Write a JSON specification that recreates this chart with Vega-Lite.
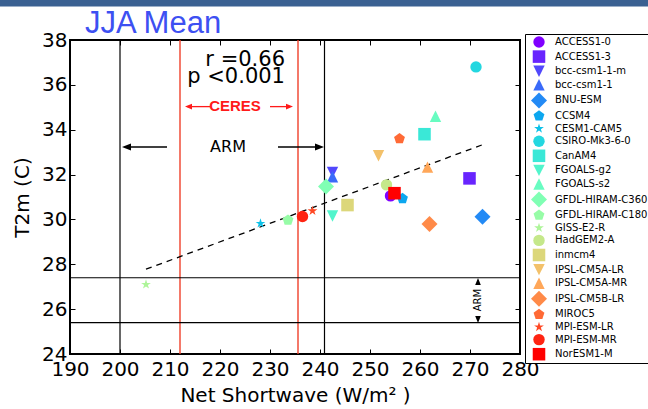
{
  "$schema": "https://vega.github.io/schema/vega-lite/v6.json",
  "width": 450,
  "height": 314,
  "autosize": {"type": "none"},
  "padding": {"left": 70, "top": 40, "right": 128, "bottom": 55},
  "background": "white",
  "title": {"text": "JJA Mean", "anchor": "start", "dx": 15, "offset": -64, "baseline": "alphabetic", "font": "Liberation Sans", "fontSize": 31, "fontWeight": "normal", "color": "#3d50f2", "frame": "group"},
  "config": {
    "view": {"stroke": "black", "strokeWidth": 2},
    "axis": {"grid": false, "domain": false, "tickColor": "black", "tickSize": -5, "tickWidth": 1, "labelColor": "black", "labelFont": "DejaVu Sans", "labelFontSize": 20, "labelOverlap": false, "labelFlush": false, "titleFont": "DejaVu Sans", "titleFontSize": 20, "titleFontWeight": "normal", "titleColor": "black"}
  },
  "resolve": {"axis": {"x": "independent", "y": "independent"}},
  "layer": [
    {
      "data": {"values": [{"band": "top"}]},
      "mark": {"type": "rect", "color": "#3b6192", "clip": false},
      "encoding": {
        "x": {"datum": 176, "type": "quantitative", "axis": null},
        "x2": {"datum": 306},
        "y": {"datum": 39.49, "type": "quantitative", "axis": null},
        "y2": {"datum": 39.8}
      }
    },
    {
      "data": {"values": [{"sw": 200}, {"sw": 240.9}]},
      "mark": {"type": "rule", "color": "black", "strokeWidth": 1.2},
      "encoding": {
        "x": {"field": "sw", "type": "quantitative", "axis": {"orient": "top", "labels": false, "title": null, "values": [190, 200, 210, 220, 230, 240, 250, 260, 270, 280]}}
      }
    },
    {
      "data": {"values": [{"sw": 212}, {"sw": 235.6}]},
      "mark": {"type": "rule", "color": "#f0402a", "strokeWidth": 1.4},
      "encoding": {
        "x": {"field": "sw", "type": "quantitative", "axis": null}
      }
    },
    {
      "data": {"values": [{"t2m": 25.4}, {"t2m": 27.4}]},
      "mark": {"type": "rule", "color": "black", "strokeWidth": 1.2},
      "encoding": {
        "y": {"field": "t2m", "type": "quantitative", "axis": {"orient": "right", "labels": false, "title": null, "values": [24, 26, 28, 30, 32, 34, 36, 38]}}
      }
    },
    {
      "data": {"values": [{"sw": 205.2, "t2m": 27.78}, {"sw": 272.5, "t2m": 33.33}]},
      "mark": {"type": "line", "color": "black", "strokeWidth": 1.3, "strokeDash": [6, 5]},
      "encoding": {
        "x": {"field": "sw", "type": "quantitative", "axis": null},
        "y": {"field": "t2m", "type": "quantitative", "axis": null}
      }
    },
    {
      "data": {"values": [
        {"model": "ACCESS1-0", "sw": 254.1, "t2m": 31.05},
        {"model": "ACCESS1-3", "sw": 269.9, "t2m": 31.83},
        {"model": "bcc-csm1-1-m", "sw": 242.5, "t2m": 32.1},
        {"model": "bcc-csm1-1", "sw": 242.5, "t2m": 31.9},
        {"model": "BNU-ESM", "sw": 272.5, "t2m": 30.12},
        {"model": "CCSM4", "sw": 256.5, "t2m": 30.93},
        {"model": "CESM1-CAM5", "sw": 228.1, "t2m": 29.82},
        {"model": "CSIRO-Mk3-6-0", "sw": 271.2, "t2m": 36.8},
        {"model": "CanAM4", "sw": 260.9, "t2m": 33.8},
        {"model": "FGOALS-g2", "sw": 242.5, "t2m": 30.15},
        {"model": "FGOALS-s2", "sw": 263.1, "t2m": 34.6},
        {"model": "GFDL-HIRAM-C360", "sw": 241.2, "t2m": 31.47},
        {"model": "GFDL-HIRAM-C180", "sw": 233.6, "t2m": 29.97},
        {"model": "GISS-E2-R", "sw": 205.2, "t2m": 27.1},
        {"model": "HadGEM2-A", "sw": 253.3, "t2m": 31.54},
        {"model": "inmcm4", "sw": 245.5, "t2m": 30.64},
        {"model": "IPSL-CM5A-LR", "sw": 251.7, "t2m": 32.84},
        {"model": "IPSL-CM5A-MR", "sw": 261.5, "t2m": 32.33},
        {"model": "IPSL-CM5B-LR", "sw": 261.9, "t2m": 29.8},
        {"model": "MIROC5", "sw": 255.9, "t2m": 33.6},
        {"model": "MPI-ESM-LR", "sw": 238.5, "t2m": 30.38},
        {"model": "MPI-ESM-MR", "sw": 236.5, "t2m": 30.13},
        {"model": "NorESM1-M", "sw": 254.9, "t2m": 31.17}
      ]},
      "mark": {"type": "point", "filled": true, "opacity": 1, "size": 130},
      "encoding": {
        "x": {"field": "sw", "type": "quantitative", "scale": {"domain": [190, 280], "nice": false, "zero": false},
              "axis": {"orient": "bottom", "values": [190, 200, 210, 220, 230, 240, 250, 260, 270, 280], "labelPadding": 10, "titlePadding": 6, "title": "Net Shortwave (W/m\u00b2 )"}},
        "y": {"field": "t2m", "type": "quantitative", "scale": {"domain": [24, 38], "nice": false, "zero": false},
              "axis": {"orient": "left", "values": [24, 26, 28, 30, 32, 34, 36, 38], "labelPadding": 8, "titlePadding": 9, "title": "T2m (C)"}},
        "color": {"field": "model", "type": "nominal",
          "scale": {
            "domain": ["ACCESS1-0", "ACCESS1-3", "bcc-csm1-1-m", "bcc-csm1-1", "BNU-ESM", "CCSM4", "CESM1-CAM5", "CSIRO-Mk3-6-0", "CanAM4", "FGOALS-g2", "FGOALS-s2", "GFDL-HIRAM-C360", "GFDL-HIRAM-C180", "GISS-E2-R", "HadGEM2-A", "inmcm4", "IPSL-CM5A-LR", "IPSL-CM5A-MR", "IPSL-CM5B-LR", "MIROC5", "MPI-ESM-LR", "MPI-ESM-MR", "NorESM1-M"],
            "range": ["#8000ff", "#6824fe", "#5148fc", "#3a6af9", "#238af5", "#0ca7ef", "#0cc1e8", "#23d7e0", "#3ae8d7", "#51f5cc", "#68fcc1", "#80ffb4", "#97fca7", "#aef599", "#c5e88a", "#dcd77a", "#f3c16a", "#ffa759", "#ff8a48", "#ff6a36", "#ff4824", "#ff2412", "#ff0000"]
          },
          "legend": {"orient": "none", "legendX": 455, "legendY": -6, "title": null, "strokeColor": "black", "fillColor": "white", "padding": 2, "symbolOffset": 6, "labelOffset": 10, "labelFontSize": 10, "labelFont": "DejaVu Sans", "labelColor": "black", "rowPadding": 1.6, "symbolSize": 130, "symbolStrokeWidth": 0}
        },
        "shape": {"field": "model", "type": "nominal",
          "scale": {
            "domain": ["ACCESS1-0", "ACCESS1-3", "bcc-csm1-1-m", "bcc-csm1-1", "BNU-ESM", "CCSM4", "CESM1-CAM5", "CSIRO-Mk3-6-0", "CanAM4", "FGOALS-g2", "FGOALS-s2", "GFDL-HIRAM-C360", "GFDL-HIRAM-C180", "GISS-E2-R", "HadGEM2-A", "inmcm4", "IPSL-CM5A-LR", "IPSL-CM5A-MR", "IPSL-CM5B-LR", "MIROC5", "MPI-ESM-LR", "MPI-ESM-MR", "NorESM1-M"],
            "range": [
              "circle", "M-1.1,-1.1L1.1,-1.1L1.1,1.1L-1.1,1.1Z", "M-1,-1L1,-1L0,1Z", "M0,-1L1,1L-1,1Z", "M0,-1.4L1.4,0L0,1.4L-1.4,0Z", "M0,-1L0.951,-0.309L0.588,0.809L-0.588,0.809L-0.951,-0.309Z", "M0,-0.9L0.202,-0.278L0.856,-0.278L0.327,0.106L0.529,0.728L0,0.344L-0.529,0.728L-0.327,0.106L-0.856,-0.278L-0.202,-0.278Z",
              "circle", "M-1.1,-1.1L1.1,-1.1L1.1,1.1L-1.1,1.1Z", "M-1,-1L1,-1L0,1Z", "M0,-1L1,1L-1,1Z", "M0,-1.4L1.4,0L0,1.4L-1.4,0Z", "M0,-1L0.951,-0.309L0.588,0.809L-0.588,0.809L-0.951,-0.309Z", "M0,-0.9L0.202,-0.278L0.856,-0.278L0.327,0.106L0.529,0.728L0,0.344L-0.529,0.728L-0.327,0.106L-0.856,-0.278L-0.202,-0.278Z",
              "circle", "M-1.1,-1.1L1.1,-1.1L1.1,1.1L-1.1,1.1Z", "M-1,-1L1,-1L0,1Z", "M0,-1L1,1L-1,1Z", "M0,-1.4L1.4,0L0,1.4L-1.4,0Z", "M0,-1L0.951,-0.309L0.588,0.809L-0.588,0.809L-0.951,-0.309Z", "M0,-0.9L0.202,-0.278L0.856,-0.278L0.327,0.106L0.529,0.728L0,0.344L-0.529,0.728L-0.327,0.106L-0.856,-0.278L-0.202,-0.278Z",
              "circle", "M-1.1,-1.1L1.1,-1.1L1.1,1.1L-1.1,1.1Z"
            ]
          },
          "legend": {"orient": "none", "legendX": 455, "legendY": -6, "title": null, "strokeColor": "black", "fillColor": "white", "padding": 2, "symbolOffset": 6, "labelOffset": 10, "labelFontSize": 10, "labelFont": "DejaVu Sans", "labelColor": "black", "rowPadding": 1.6, "symbolSize": 130, "symbolStrokeWidth": 0}
        }
      }
    },
    {
      "data": {"values": [{"sw": 233, "t2m": 36.83, "label": "r =0.66"}, {"sw": 233, "t2m": 36.08, "label": "p <0.001"}]},
      "mark": {"type": "text", "align": "right", "baseline": "alphabetic", "font": "DejaVu Sans", "fontSize": 21, "color": "black"},
      "encoding": {
        "x": {"field": "sw", "type": "quantitative", "axis": null},
        "y": {"field": "t2m", "type": "quantitative", "axis": null},
        "text": {"field": "label"}
      }
    },
    {
      "data": {"values": [{"sw": 223, "t2m": 35.05, "label": "CERES"}]},
      "mark": {"type": "text", "align": "center", "baseline": "middle", "font": "Liberation Sans", "fontWeight": "bold", "fontSize": 15, "color": "#ff1a1a"},
      "encoding": {
        "x": {"field": "sw", "type": "quantitative", "axis": null},
        "y": {"field": "t2m", "type": "quantitative", "axis": null},
        "text": {"field": "label"}
      }
    },
    {
      "data": {"values": [{"a": 213.5, "b": 218, "t2m": 35.03}, {"a": 230, "b": 234, "t2m": 35.03}]},
      "mark": {"type": "rule", "color": "#ff1a1a", "strokeWidth": 1.3},
      "encoding": {
        "x": {"field": "a", "type": "quantitative", "axis": null},
        "x2": {"field": "b"},
        "y": {"field": "t2m", "type": "quantitative", "axis": null}
      }
    },
    {
      "data": {"values": [{"sw": 213.7, "t2m": 35.03}]},
      "mark": {"type": "point", "filled": true, "color": "#ff1a1a", "opacity": 1, "size": 49, "shape": "M-1,0L1,-0.8L1,0.8Z"},
      "encoding": {
        "x": {"field": "sw", "type": "quantitative", "axis": null},
        "y": {"field": "t2m", "type": "quantitative", "axis": null}
      }
    },
    {
      "data": {"values": [{"sw": 233.9, "t2m": 35.03}]},
      "mark": {"type": "point", "filled": true, "color": "#ff1a1a", "opacity": 1, "size": 49, "shape": "M1,0L-1,-0.8L-1,0.8Z"},
      "encoding": {
        "x": {"field": "sw", "type": "quantitative", "axis": null},
        "y": {"field": "t2m", "type": "quantitative", "axis": null}
      }
    },
    {
      "data": {"values": [{"sw": 221.6, "t2m": 33.23, "label": "ARM"}]},
      "mark": {"type": "text", "align": "center", "baseline": "middle", "font": "DejaVu Sans", "fontSize": 16, "color": "black"},
      "encoding": {
        "x": {"field": "sw", "type": "quantitative", "axis": null},
        "y": {"field": "t2m", "type": "quantitative", "axis": null},
        "text": {"field": "label"}
      }
    },
    {
      "data": {"values": [{"a": 201, "b": 209.4, "t2m": 33.23}, {"a": 231.6, "b": 240, "t2m": 33.23}]},
      "mark": {"type": "rule", "color": "black", "strokeWidth": 1.3},
      "encoding": {
        "x": {"field": "a", "type": "quantitative", "axis": null},
        "x2": {"field": "b"},
        "y": {"field": "t2m", "type": "quantitative", "axis": null}
      }
    },
    {
      "data": {"values": [{"sw": 201.3, "t2m": 33.23}]},
      "mark": {"type": "point", "filled": true, "color": "black", "opacity": 1, "size": 81, "shape": "M-1,0L1,-0.8L1,0.8Z"},
      "encoding": {
        "x": {"field": "sw", "type": "quantitative", "axis": null},
        "y": {"field": "t2m", "type": "quantitative", "axis": null}
      }
    },
    {
      "data": {"values": [{"sw": 239.9, "t2m": 33.23}]},
      "mark": {"type": "point", "filled": true, "color": "black", "opacity": 1, "size": 81, "shape": "M1,0L-1,-0.8L-1,0.8Z"},
      "encoding": {
        "x": {"field": "sw", "type": "quantitative", "axis": null},
        "y": {"field": "t2m", "type": "quantitative", "axis": null}
      }
    },
    {
      "data": {"values": [{"sw": 271.6, "t2m": 26.4, "label": "ARM"}]},
      "mark": {"type": "text", "align": "center", "baseline": "middle", "font": "DejaVu Sans", "fontSize": 10, "angle": 270, "color": "black"},
      "encoding": {
        "x": {"field": "sw", "type": "quantitative", "axis": null},
        "y": {"field": "t2m", "type": "quantitative", "axis": null},
        "text": {"field": "label"}
      }
    },
    {
      "data": {"values": [{"sw": 271.6, "t2m": 27.23}]},
      "mark": {"type": "point", "filled": true, "color": "black", "opacity": 1, "size": 49, "shape": "M0,-1L0.8,1L-0.8,1Z"},
      "encoding": {
        "x": {"field": "sw", "type": "quantitative", "axis": null},
        "y": {"field": "t2m", "type": "quantitative", "axis": null}
      }
    },
    {
      "data": {"values": [{"sw": 271.6, "t2m": 25.54}]},
      "mark": {"type": "point", "filled": true, "color": "black", "opacity": 1, "size": 49, "shape": "M0,1L0.8,-1L-0.8,-1Z"},
      "encoding": {
        "x": {"field": "sw", "type": "quantitative", "axis": null},
        "y": {"field": "t2m", "type": "quantitative", "axis": null}
      }
    }
  ]
}
